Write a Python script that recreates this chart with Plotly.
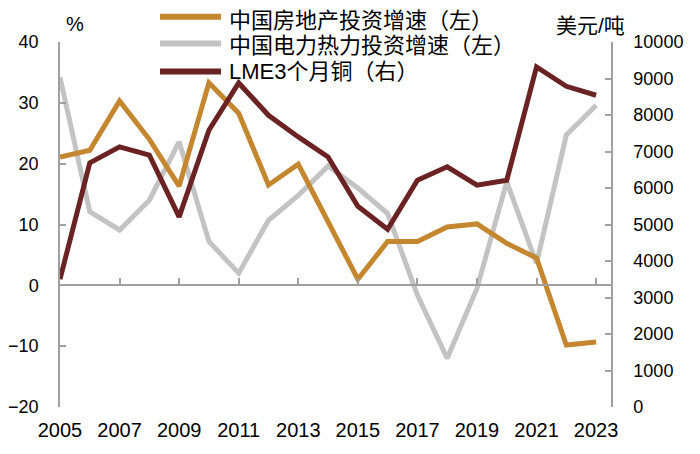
import plotly.graph_objects as go

years = list(range(2005, 2024))
real_estate = [21.1, 22.2, 30.3, 24.0, 16.3, 33.3, 28.3, 16.5, 19.9, 10.5, 1.0, 7.2, 7.2, 9.6, 10.1, 6.9, 4.5, -9.8, -9.3]
power_heat = [34.2, 12.1, 9.1, 14.0, 23.6, 7.2, 2.0, 10.7, 14.8, 19.6, 16.0, 11.8, -1.6, -12.0, -0.5, 17.0, 3.6, 24.7, 29.6]
copper = [3500, 6690, 7126, 6900, 5210, 7583, 8878, 7993, 7400, 6852, 5500, 4870, 6214, 6580, 6077, 6214, 9316, 8787, 8541]

names = ["中国房地产投资增速（左）", "中国电力热力投资增速（左）", "LME3个月铜（右）"]
colors = ["#C4862F", "#C3C3C3", "#6B2222"]
x_ticks = list(range(2005, 2024, 2))

W, H = 700, 454
OFF = 8  # page body margin offset
# target plot area in screenshot pixels
PL, PR, PT, PB = 60, 611, 42, 407
ML, MT = PL - OFF, PT - OFF
MR, MB = W - (PR - OFF), H - (PB - OFF)
PW, PH = PR - PL, PB - PT
def px(xp): return (xp - PL) / PW
def py(yp): return (PB - yp) / PH

fig = go.Figure()
fig.add_trace(go.Scatter(x=years, y=power_heat, mode="lines", name=names[1],
                         line=dict(color=colors[1], width=5), showlegend=False))
fig.add_trace(go.Scatter(x=years, y=real_estate, mode="lines", name=names[0],
                         line=dict(color=colors[0], width=5), showlegend=False))
fig.add_trace(go.Scatter(x=years, y=copper, mode="lines", name=names[2], yaxis="y2",
                         line=dict(color=colors[2], width=5), showlegend=False))

axis_col = "#A0A0A0"
tick_font = dict(family="Liberation Sans, Arial", size=18, color="black")
fig.update_layout(
    width=W, height=H,
    margin=dict(l=ML, r=MR, t=MT, b=MB, autoexpand=False),
    plot_bgcolor="white", paper_bgcolor="white",
    xaxis=dict(range=[2005, 2023.5], tickvals=x_ticks, ticktext=[str(v) for v in x_ticks],
               showgrid=False, zeroline=False, showline=False, ticks="", automargin=False,
               tickfont=dict(family="Liberation Sans, Arial", size=20, color="black"),
               ticklabelstandoff=9),
    xaxis2=dict(range=[2005, 2023.5], matches="x", overlaying="x", anchor="free", position=1/3,
                tickvals=x_ticks, showticklabels=False, showgrid=False, zeroline=False,
                showline=True, linecolor=axis_col, linewidth=1.5, automargin=False,
                ticks="inside", ticklen=7, tickcolor=axis_col, tickwidth=1.5),
    yaxis=dict(range=[-20, 40], dtick=10, showgrid=False, zeroline=False, automargin=False,
               showline=True, linecolor=axis_col, linewidth=1.5,
               ticks="inside", ticklen=6, tickcolor=axis_col, tickwidth=1.5,
               tickfont=tick_font, ticklabelstandoff=16),
    yaxis2=dict(range=[0, 10000], dtick=1000, tickformat="d", overlaying="y", side="right",
                showgrid=False, zeroline=False, automargin=False,
                showline=True, linecolor=axis_col, linewidth=1.5,
                ticks="inside", ticklen=6, tickcolor=axis_col, tickwidth=1.5,
                tickfont=tick_font, ticklabelstandoff=17),
)
# invisible trace to register xaxis2
fig.add_trace(go.Scatter(x=[2005], y=[0], xaxis="x2", mode="markers",
                         marker=dict(opacity=0), showlegend=False, hoverinfo="skip"))

leg_font = "Liberation Sans, Noto Sans CJK SC"
line_rows = [16.7, 43.5, 71.5]
text_rows = [20.5, 45.5, 71.5]
shapes = []
annotations = []
for i, (r, t) in enumerate(zip(line_rows, text_rows)):
    shapes.append(dict(type="line", xref="paper", yref="paper",
                       x0=px(160), x1=px(221), y0=py(r), y1=py(r),
                       line=dict(color=colors[i], width=6)))
    annotations.append(dict(text=names[i], xref="paper", yref="paper",
                            x=px(227), y=py(t), xanchor="left", yanchor="middle",
                            showarrow=False, font=dict(family=leg_font, size=22, color="black")))
annotations.append(dict(text="%", xref="paper", yref="paper", x=px(75), y=py(24),
                        xanchor="center", yanchor="middle", showarrow=False,
                        font=dict(family="Liberation Sans, Arial", size=20, color="black")))
annotations.append(dict(text="美元/吨", xref="paper", yref="paper", x=px(590), y=py(25),
                        xanchor="center", yanchor="middle", showarrow=False,
                        font=dict(family="Liberation Sans, Noto Sans CJK SC", size=21, color="black")))
fig.update_layout(shapes=shapes, annotations=annotations)

fig.write_html("out.html")
